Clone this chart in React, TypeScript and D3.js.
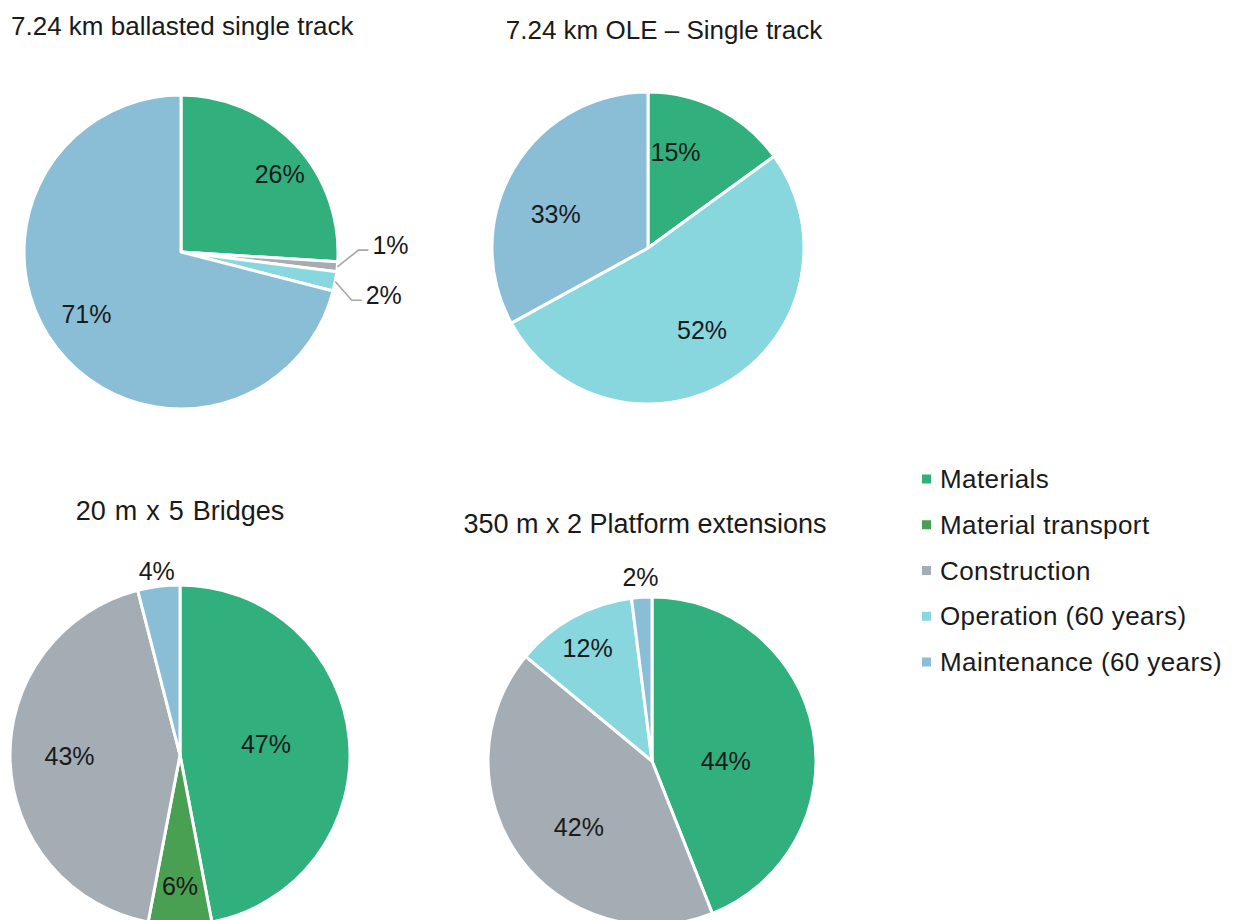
import React from "react";
import * as d3 from "d3";

const categories = ["Materials", "Material transport", "Construction", "Operation (60 years)", "Maintenance (60 years)"];
const colors = ["#31b07e", "#4aa052", "#a3adb3", "#88d7de", "#89bed6"];

const titles = ["7.24 km ballasted single track", "7.24 km OLE – Single track", "20 m x 5 Bridges", "350 m x 2 Platform extensions"];
const trackValues = [26, 0, 1, 2, 71];
const oleValues = [15, 0, 0, 52, 33];
const bridgeValues = [47, 6, 43, 0, 4];
const platformValues = [44, 0, 42, 12, 2];

type LabelLayout = { r: number; da: number; leader?: boolean };

const pies = [
  {
    values: trackValues, cx: 181, cy: 252, r: 157,
    title: { x: 11, y: 26, anchor: "start", size: 26, ws: 0 },
    labels: [{ r: 0.8, da: 5 }, { r: 0, da: 0 }, { r: 1.13, da: -6, leader: true }, { r: 1.13, da: 5, leader: true }, { r: 0.72, da: 4.6 }] as LabelLayout[],
  },
  {
    values: oleValues, cx: 648, cy: 248, r: 156,
    title: { x: 664, y: 30, anchor: "middle", size: 26, ws: 0 },
    labels: [{ r: 0.64, da: -11 }, { r: 0, da: 0 }, { r: 0, da: 0 }, { r: 0.63, da: -1 }, { r: 0.63, da: -10.6 }] as LabelLayout[],
  },
  {
    values: bridgeValues, cx: 180, cy: 755, r: 170,
    title: { x: 180, y: 511, anchor: "middle", size: 27, ws: 1.5 },
    labels: [{ r: 0.51, da: -2 }, { r: 0.77, da: 0 }, { r: 0.65, da: 1 }, { r: 0, da: 0 }, { r: 1.09, da: 0 }] as LabelLayout[],
  },
  {
    values: platformValues, cx: 652, cy: 761, r: 164,
    title: { x: 645, y: 524, anchor: "middle", size: 27, ws: 0 },
    labels: [{ r: 0.45, da: 11 }, { r: 0, da: 0 }, { r: 0.6, da: -6 }, { r: 0.79, da: -1 }, { r: 1.12, da: 0 }] as LabelLayout[],
  },
];

const FONT = "'Liberation Sans', Arial, sans-serif";
const polar = (a: number, rad: number): [number, number] => [Math.sin(a) * rad, -Math.cos(a) * rad];

function Pie({ p, idx }: { p: (typeof pies)[number]; idx: number }) {
  const pieGen = d3.pie<number>().sort(null).value((d) => d);
  const arcs = pieGen(p.values);
  const arcGen = d3.arc<d3.PieArcDatum<number>>().innerRadius(0).outerRadius(p.r);
  return (
    <g>
      <text x={p.title.x} y={p.title.y} dy="0.35em" textAnchor={p.title.anchor as any} fontSize={p.title.size} wordSpacing={p.title.ws} fill="#1a1a1a" fontFamily={FONT}>
        {titles[idx]}
      </text>
      <g transform={`translate(${p.cx},${p.cy})`}>
        {arcs.map((a, i) =>
          a.value > 0 ? (
            <path key={i} d={arcGen(a) || ""} fill={colors[i]} stroke="#fff" strokeWidth={3} strokeLinejoin="round" />
          ) : null
        )}
        {arcs.map((a, i) => {
          if (a.value <= 0) return null;
          const lay = p.labels[i];
          const mid = (a.startAngle + a.endAngle) / 2;
          const ang = mid + (lay.da * Math.PI) / 180;
          const txt = `${a.value}%`;
          if (lay.leader) {
            const s = polar(mid, p.r);
            const e = polar(ang, p.r * lay.r);
            const end: [number, number] = [e[0] + 10, e[1]];
            return (
              <g key={"l" + i}>
                <polyline points={`${s[0]},${s[1]} ${e[0]},${e[1]} ${end[0]},${end[1]}`} fill="none" stroke="#a6a6a6" strokeWidth={1.6} />
                <text x={end[0] + 4} y={end[1] - 5} dy="0.35em" fontSize={25} fill="#1a1a1a" fontFamily={FONT}>
                  {txt}
                </text>
              </g>
            );
          }
          const [x, y] = polar(ang, p.r * lay.r);
          return (
            <text key={"t" + i} x={x} y={y} dy="0.35em" textAnchor="middle" fontSize={25} fill="#1a1a1a" fontFamily={FONT}>
              {txt}
            </text>
          );
        })}
      </g>
    </g>
  );
}

export default function App() {
  const legendY = d3.scalePoint<string>().domain(categories).range([479, 662]);
  return (
    <svg width={1234} height={920} style={{ position: "absolute", left: 0, top: 0, background: "#fff" }}>
      <rect width={1234} height={920} fill="#fff" />
      {pies.map((p, i) => (
        <Pie key={i} p={p} idx={i} />
      ))}
      <g>
        {categories.map((c, i) => (
          <g key={c} transform={`translate(0,${legendY(c)})`}>
            <rect x={922} y={-4.5} width={9} height={9} fill={colors[i]} />
            <text x={940} y={0} dy="0.35em" fontSize={26} fill="#1a1a1a" fontFamily={FONT} letterSpacing={0.4}>
              {c}
            </text>
          </g>
        ))}
      </g>
    </svg>
  );
}
